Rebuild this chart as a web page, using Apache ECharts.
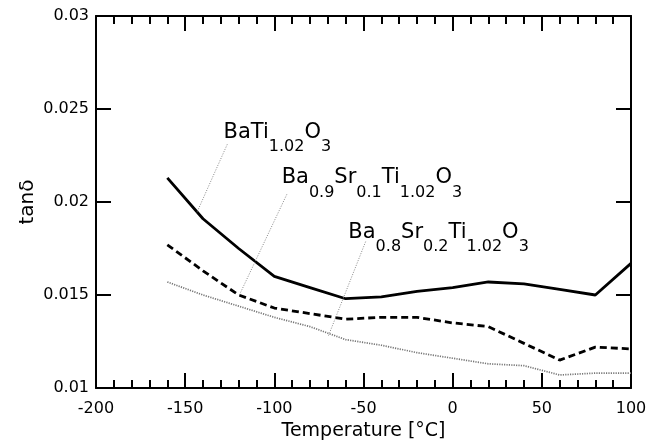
<!DOCTYPE html>
<html>
<head>
<meta charset="utf-8">
<script src="https://cdn.jsdelivr.net/npm/echarts@6/dist/echarts.min.js"></script>
<style>
html, body { margin: 0; padding: 0; background: #fff; }
#chart { width: 657px; height: 441px; }
</style>
</head>
<body>
<div id="chart"></div>
<script>
// temperature points (°C)
const temps = [-160, -140, -120, -100, -80, -60, -40, -20, 0, 20, 40, 60, 80, 100];
// tanδ of the three compositions
const batiO3 = [0.0213, 0.0191, 0.0175, 0.0160, 0.0154, 0.0148, 0.0149, 0.0152, 0.0154, 0.0157, 0.0156, 0.0153, 0.0150, 0.0167];
const sr01 = [0.0177, 0.0163, 0.0150, 0.0143, 0.0140, 0.0137, 0.0138, 0.0138, 0.0135, 0.0133, 0.0124, 0.0115, 0.0122, 0.0121];
const sr02 = [0.0157, 0.0150, 0.0144, 0.0138, 0.0133, 0.0126, 0.0123, 0.0119, 0.0116, 0.0113, 0.0112, 0.0107, 0.0108, 0.0108];

// annotation texts as [text, isSubscript] pieces
const labelPieces = [
  [['BaTi', 0], ['1.02', 1], ['O', 0], ['3', 1]],
  [['Ba', 0], ['0.9', 1], ['Sr', 0], ['0.1', 1], ['Ti', 0], ['1.02', 1], ['O', 0], ['3', 1]],
  [['Ba', 0], ['0.8', 1], ['Sr', 0], ['0.2', 1], ['Ti', 0], ['1.02', 1], ['O', 0], ['3', 1]]
];
// text anchor (left, baseline) and leader line ends, in data units
const labelAnchors = [[-128.5, 0.02346], [-95.9, 0.0210], [-58.5, 0.01808]];
const leaderFrom = [[-126.4, 0.0231], [-93.0, 0.02041], [-48.8, 0.01787]];
const leaderTo = [[-143.6, 0.0194], [-119.6, 0.0150], [-69.7, 0.0128]];

const FONT = 'DejaVu Sans';
const MAIN_SIZE = 21;
const SUB_SIZE = 16;

function pairs (ys) {
  return temps.map((t, i) => [t, ys[i]]);
}

let chart = echarts.init(document.getElementById('chart'));

const xBase = {
  type: 'value',
  min: -200,
  max: 100,
  interval: 50,
  axisLine: { show: true, onZero: false, lineStyle: { color: '#000', width: 2 } },
  axisTick: { show: true, inside: true, length: 15, lineStyle: { color: '#000', width: 2 } },
  minorTick: { show: true, splitNumber: 5, length: 8, lineStyle: { color: '#000', width: 2 } },
  splitLine: { show: false }
};
const yBase = {
  type: 'value',
  min: 0.01,
  max: 0.03,
  interval: 0.005,
  axisLine: { show: true, onZero: false, lineStyle: { color: '#000', width: 2 } },
  axisTick: { show: true, inside: true, length: 15, lineStyle: { color: '#000', width: 2 } },
  splitLine: { show: false }
};

let option = {
  backgroundColor: '#fff',
  animation: false,
  grid: {
    left: 96,
    right: 26,
    top: 16,
    bottom: 53,
    outerBoundsMode: 'none'
  },
  xAxis: [
    Object.assign({}, xBase, {
      position: 'bottom',
      name: 'Temperature [°C]',
      nameLocation: 'middle',
      nameGap: 34,
      nameMoveOverlap: false,
      nameTextStyle: { fontFamily: FONT, fontSize: 19, color: '#000' },
      axisLabel: { fontFamily: FONT, fontSize: 16, color: '#000', margin: 13 }
    }),
    Object.assign({}, xBase, {
      position: 'top',
      axisLabel: { show: false }
    })
  ],
  yAxis: [
    Object.assign({}, yBase, {
      position: 'left',
      name: 'tanδ',
      nameLocation: 'middle',
      nameGap: 58,
      nameMoveOverlap: false,
      nameTextStyle: { fontFamily: FONT, fontSize: 20, color: '#000' },
      axisLabel: {
        fontFamily: FONT,
        fontSize: 16,
        color: '#000',
        margin: 7,
        formatter: function (value) {
          return String(+value.toFixed(3));
        }
      }
    }),
    Object.assign({}, yBase, {
      position: 'right',
      axisLabel: { show: false }
    })
  ],
  series: [{
    name: 'BaTi1.02O3',
    type: 'line',
    data: pairs(batiO3),
    showSymbol: false,
    lineStyle: { color: '#000', width: 2.8, type: 'solid' },
    z: 3
  }, {
    name: 'Ba0.9Sr0.1Ti1.02O3',
    type: 'line',
    data: pairs(sr01),
    showSymbol: false,
    lineStyle: { color: '#000', width: 2.8, type: [7, 4] },
    z: 3
  }, {
    name: 'Ba0.8Sr0.2Ti1.02O3',
    type: 'line',
    data: pairs(sr02),
    showSymbol: false,
    lineStyle: { color: '#777', width: 1.7, type: [1.2, 1.2] },
    z: 3
  }]
};
chart.setOption(option);

// annotations: labels with subscripts and dotted leader lines
let ctx = document.createElement('canvas').getContext('2d');
function textWidth (txt, size) {
  ctx.font = size + 'px "' + FONT + '"';
  return ctx.measureText(txt).width;
}

let graphics = [];
labelPieces.forEach(function (pieces, i) {
  let p = chart.convertToPixel({ gridIndex: 0 }, labelAnchors[i]);
  let x = p[0];
  pieces.forEach(function (piece) {
    let sub = piece[1] === 1;
    let size = sub ? SUB_SIZE : MAIN_SIZE;
    graphics.push({
      type: 'text',
      x: x,
      y: sub ? p[1] + 9 : p[1] - 5.5,
      style: {
        text: piece[0],
        fontFamily: FONT,
        fontSize: size,
        fill: '#000',
        align: 'left',
        verticalAlign: 'middle'
      },
      z: 10
    });
    x += textWidth(piece[0], size);
  });
  let a = chart.convertToPixel({ gridIndex: 0 }, leaderFrom[i]);
  let b = chart.convertToPixel({ gridIndex: 0 }, leaderTo[i]);
  graphics.push({
    type: 'line',
    shape: { x1: a[0], y1: a[1], x2: b[0], y2: b[1] },
    style: { stroke: '#888', lineWidth: 1, lineDash: [1, 1.5] },
    z: 10
  });
});
chart.setOption({ graphic: graphics });
</script>
</body>
</html>
